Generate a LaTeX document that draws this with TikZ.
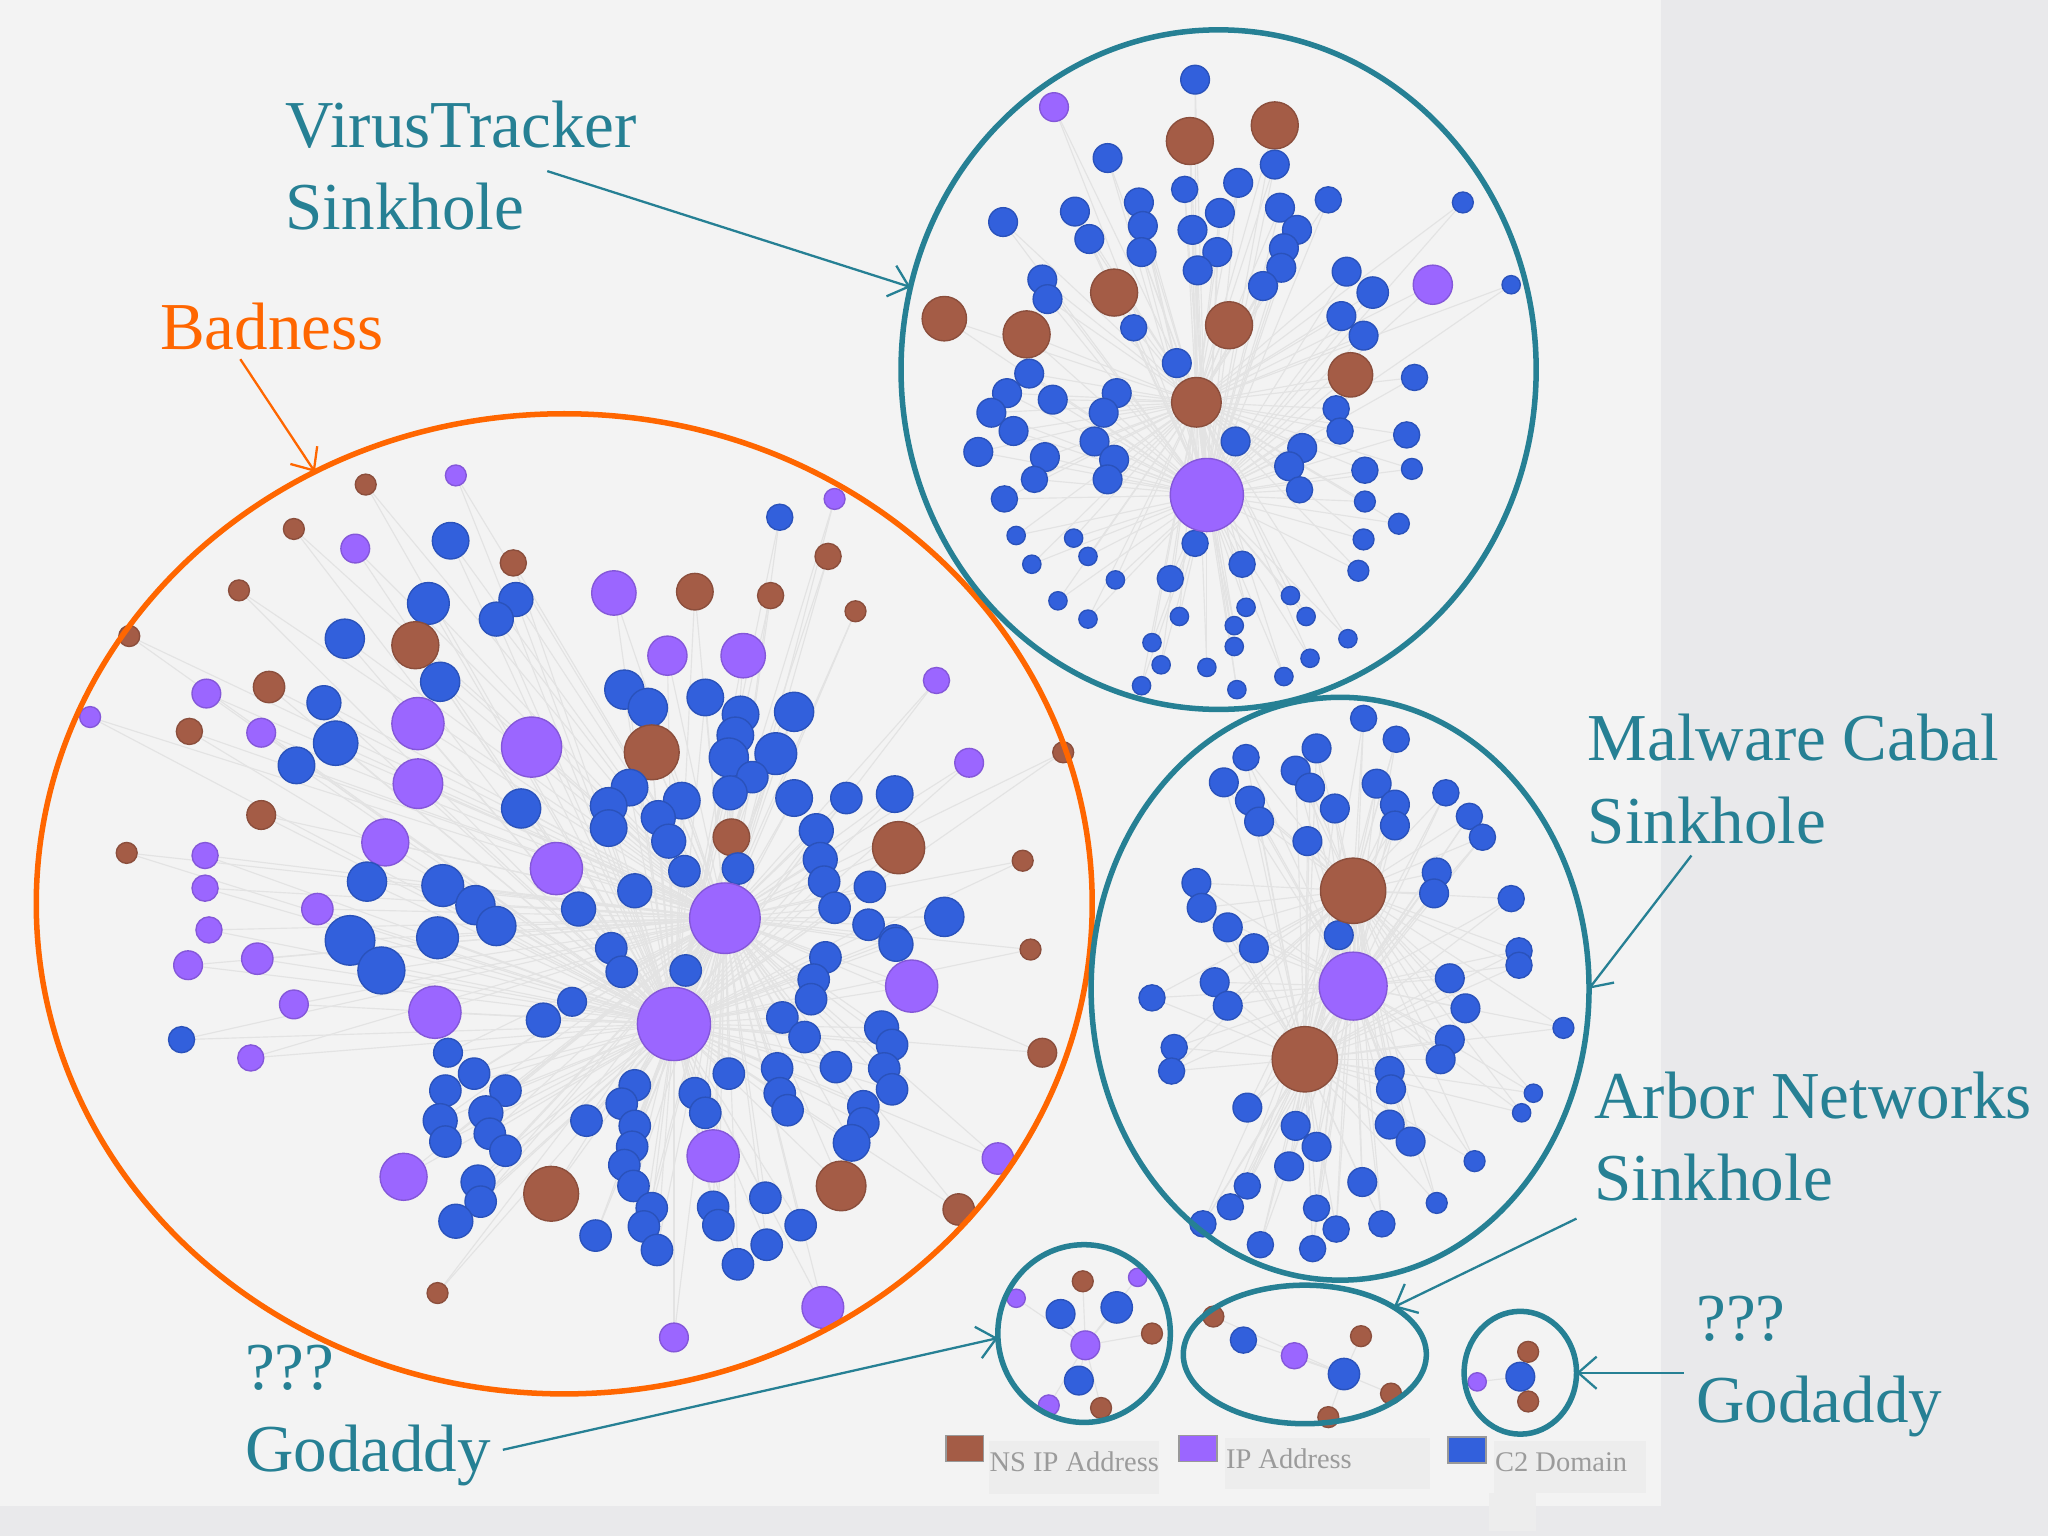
\documentclass[tikz,border=0pt]{standalone}
\usepackage{fontspec}
\setmainfont{Liberation Serif}
\usepackage{tikz}
\usetikzlibrary{arrows.meta,shapes.geometric}
\definecolor{SlideBack}{RGB}{243,243,243}
\definecolor{SlideSide}{RGB}{233,233,235}
\definecolor{SinkTeal}{RGB}{38,128,148}
\definecolor{BadOrange}{RGB}{255,102,0}
\definecolor{nsip}{RGB}{164,92,70}
\definecolor{ipaddr}{RGB}{155,102,255}
\definecolor{ctwo}{RGB}{50,96,220}
\definecolor{KeyText}{RGB}{155,155,155}

\tikzset{
  ring/.style={draw=SinkTeal, ellipse, line width=1.2pt, inner sep=0pt, outer sep=0pt},
  callout/.style={font=\fontsize{14.6}{17.9}\selectfont, align=left, inner sep=0pt, anchor=west, text=SinkTeal},
  pointer/.style={SinkTeal, line width=0.5pt, -{Straight Barb[length=4pt,width=7pt]}},
  edge/.style={gray!22, line width=0.25pt},
  keybox/.style={draw=gray!80, line width=0.4pt, minimum width=0.29cm, minimum height=0.2cm, inner sep=0pt},
  keytext/.style={font=\fontsize{6.2}{7}\selectfont, text=KeyText, inner sep=0pt, anchor=base west}
}

%% x/y/radius/colour, y measured downwards
\def\badnodes{280/371/8/nsip, 349/364/8/ipaddr, 225/405/8/nsip, 272/420/11/ipaddr, 345/414/14/ctwo, 393/431/10/nsip, 183/452/8/nsip, 328/462/16/ctwo, 395/459/13/ctwo, 380/474/13/ctwo, 99/487/8/nsip, 264/489/15/ctwo, 318/494/18/nsip, 337/522/15/ctwo, 158/531/11/ipaddr, 206/526/12/nsip, 248/538/13/ctwo, 69/549/8/ipaddr, 145/560/10/nsip, 200/561/11/ipaddr, 257/569/17/ctwo, 227/586/14/ctwo, 320/554/20/ipaddr, 320/600/19/ipaddr, 407/572/23/ipaddr, 399/619/15/ctwo, 200/624/11/nsip, 295/645/18/ipaddr, 97/653/8/nsip, 157/655/10/ipaddr, 157/680/10/ipaddr, 160/712/10/ipaddr, 281/675/15/ctwo, 243/696/12/ipaddr, 339/678/16/ctwo, 364/693/15/ctwo, 380/709/15/ctwo, 426/665/20/ipaddr, 268/720/19/ctwo, 292/743/18/ctwo, 335/718/16/ctwo,
639/382/8/ipaddr, 597/396/10/ctwo, 634/426/10/nsip, 470/454/17/ipaddr, 532/453/14/nsip, 590/456/10/nsip, 655/468/8/nsip, 511/502/15/ipaddr, 569/502/17/ipaddr, 717/521/10/ipaddr, 478/528/15/ctwo, 496/542/15/ctwo, 540/534/14/ctwo, 567/547/14/ctwo, 608/545/15/ctwo, 499/576/21/nsip, 563/563/14/ctwo, 558/580/15/ctwo, 594/577/16/ctwo, 576/595/12/ctwo, 742/584/11/ipaddr, 814/576/8/nsip, 482/603/14/ctwo, 466/617/14/ctwo, 466/634/14/ctwo, 522/613/14/ctwo, 504/626/13/ctwo, 512/644/13/ctwo, 559/607/13/ctwo, 608/611/14/ctwo, 648/611/12/ctwo, 685/608/14/ctwo, 560/641/14/nsip, 688/649/20/nsip, 783/659/8/nsip, 625/636/13/ctwo, 628/658/13/ctwo, 631/675/12/ctwo, 524/667/12/ctwo, 565/665/12/ctwo, 486/682/13/ctwo, 666/679/12/ctwo, 639/695/12/ctwo, 665/708/12/ctwo, 723/702/15/ctwo, 443/696/13/ctwo, 685/720/12/ctwo,
144/739/11/ipaddr, 197/734/12/ipaddr, 225/769/11/ipaddr, 139/796/10/ctwo, 192/810/10/ipaddr, 333/775/20/ipaddr, 416/781/13/ctwo, 343/806/11/ctwo, 363/822/12/ctwo, 341/835/12/ctwo, 387/835/12/ctwo, 337/858/13/ctwo, 341/874/12/ctwo, 372/852/13/ctwo, 375/868/12/ctwo, 387/881/12/ctwo, 309/901/18/ipaddr, 422/914/21/nsip, 366/905/13/ctwo, 368/920/12/ctwo, 349/935/13/ctwo, 335/990/8/nsip,
686/723/13/ctwo, 789/727/8/nsip, 468/726/12/ctwo, 476/744/12/ctwo, 525/743/12/ctwo, 438/767/11/ctwo, 632/733/12/ctwo, 623/750/12/ctwo, 621/765/12/ctwo, 599/779/12/ctwo, 616/794/12/ctwo, 698/755/20/ipaddr, 798/806/11/nsip, 675/787/13/ctwo, 683/800/12/ctwo, 677/818/12/ctwo, 683/834/12/ctwo, 640/817/12/ctwo, 595/818/12/ctwo, 597/837/12/ctwo, 603/850/12/ctwo, 558/822/12/ctwo, 532/837/12/ctwo, 540/852/12/ctwo, 486/831/12/ctwo, 476/845/12/ctwo, 486/862/12/ctwo, 484/878/12/ctwo, 449/858/12/ctwo, 478/892/12/ctwo, 485/908/12/ctwo, 499/925/12/ctwo, 493/939/12/ctwo, 503/957/12/ctwo, 456/946/12/ctwo, 661/847/12/ctwo, 661/860/12/ctwo, 652/875/14/ctwo, 546/885/20/ipaddr, 644/908/19/nsip, 764/887/12/ipaddr, 734/926/12/nsip, 586/917/12/ctwo, 546/924/12/ctwo, 550/938/12/ctwo, 613/938/12/ctwo, 587/953/12/ctwo, 565/968/12/ctwo, 630/1001/16/ipaddr, 516/1024/11/ipaddr,
555/703/27/ipaddr, 516/784/28/ipaddr}

\def\vtnodes{915/61/11/ctwo, 807/82/11/ipaddr, 911/108/18/nsip, 976/96/18/nsip, 848/121/11/ctwo, 907/145/10/ctwo, 948/140/11/ctwo, 976/126/11/ctwo, 1017/153/10/ctwo, 1120/155/8/ctwo, 768/170/11/ctwo, 823/162/11/ctwo, 834/183/11/ctwo, 872/155/11/ctwo, 875/173/11/ctwo, 874/193/11/ctwo, 913/176/11/ctwo, 934/163/11/ctwo, 932/193/11/ctwo, 917/207/11/ctwo, 980/159/11/ctwo, 993/176/11/ctwo, 983/190/11/ctwo, 981/205/11/ctwo, 967/219/11/ctwo, 1031/208/11/ctwo, 1051/224/12/ctwo, 1097/218/15/ipaddr, 1157/218/7/ctwo, 798/214/11/ctwo, 802/229/11/ctwo, 853/224/18/nsip, 723/244/17/nsip, 786/256/18/nsip, 868/251/10/ctwo, 941/249/18/nsip, 1027/242/11/ctwo, 1044/257/11/ctwo, 1034/287/17/nsip, 1083/289/10/ctwo, 901/278/11/ctwo, 916/308/19/nsip, 788/286/11/ctwo, 771/301/11/ctwo, 759/316/11/ctwo, 776/330/11/ctwo, 806/306/11/ctwo, 855/301/11/ctwo, 845/316/11/ctwo, 838/338/11/ctwo, 853/352/11/ctwo, 848/367/11/ctwo, 749/346/11/ctwo, 800/350/11/ctwo, 792/367/10/ctwo, 769/382/10/ctwo, 946/338/11/ctwo, 997/343/11/ctwo, 987/357/11/ctwo, 995/375/10/ctwo, 1023/313/10/ctwo, 1026/330/10/ctwo, 1077/333/10/ctwo, 1045/360/10/ctwo, 1081/359/8/ctwo, 1045/384/8/ctwo, 1071/401/8/ctwo, 1044/413/8/ctwo, 1040/437/8/ctwo, 778/410/7/ctwo, 822/412/7/ctwo, 833/426/7/ctwo, 790/432/7/ctwo, 915/416/10/ctwo, 951/432/10/ctwo, 896/443/10/ctwo, 854/444/7/ctwo, 810/460/7/ctwo, 833/474/7/ctwo, 988/456/7/ctwo, 1000/472/7/ctwo, 903/472/7/ctwo, 954/465/7/ctwo, 945/479/7/ctwo, 945/495/7/ctwo, 1032/489/7/ctwo, 882/492/7/ctwo, 889/509/7/ctwo, 924/511/7/ctwo, 1003/504/7/ctwo, 874/525/7/ctwo, 947/528/7/ctwo, 983/518/7/ctwo,
924/379/28/ipaddr}

\def\mcnodes{1044/550/10/ctwo, 1069/566/10/ctwo, 954/580/10/ctwo, 1008/573/11/ctwo, 937/599/11/ctwo, 992/590/11/ctwo, 1003/603/11/ctwo, 957/613/11/ctwo, 964/629/11/ctwo, 1022/619/11/ctwo, 1054/600/11/ctwo, 1068/616/11/ctwo, 1068/632/11/ctwo, 1107/607/10/ctwo, 1125/625/10/ctwo, 1135/641/10/ctwo, 1001/644/11/ctwo, 916/676/11/ctwo, 920/695/11/ctwo, 940/710/11/ctwo, 960/726/11/ctwo, 1100/668/11/ctwo, 1098/684/11/ctwo, 1157/688/10/ctwo, 1163/728/10/ctwo, 1163/739/10/ctwo, 1025/716/11/ctwo, 882/764/10/ctwo, 930/752/11/ctwo, 940/770/11/ctwo, 1110/749/11/ctwo, 1122/772/11/ctwo, 1197/787/8/ctwo, 899/802/10/ctwo, 897/820/10/ctwo, 1110/796/11/ctwo, 1103/811/11/ctwo, 1064/820/11/ctwo, 1065/834/11/ctwo, 1174/837/7/ctwo, 1165/852/7/ctwo, 955/848/11/ctwo, 992/862/11/ctwo, 1008/878/11/ctwo, 1064/861/11/ctwo, 1080/874/11/ctwo, 1129/889/8/ctwo, 987/893/11/ctwo, 1043/905/11/ctwo, 955/908/10/ctwo, 942/924/10/ctwo, 1100/921/8/ctwo, 1008/925/10/ctwo, 1023/941/10/ctwo, 1058/937/10/ctwo, 921/937/10/ctwo, 965/953/10/ctwo, 1005/956/10/ctwo,
1036/682/25/nsip, 1036/755/26/ipaddr, 999/811/25/nsip}

\def\gdleftnodes{829/981/8/nsip, 871/978/7/ipaddr, 778/994/7/ipaddr, 812/1006/11/ctwo, 855/1001/12/ctwo, 882/1021/8/nsip, 826/1057/11/ctwo, 803/1076/8/ipaddr, 843/1078/8/nsip, 831/1030/11/ipaddr}
\def\arnodes{929/1008/8/nsip, 952/1026/10/ctwo, 991/1038/10/ipaddr, 1042/1023/8/nsip, 1065/1067/8/nsip, 1017/1085/8/nsip, 1029/1052/12/ctwo}
\def\gdrightnodes{1170/1035/8/nsip, 1131/1058/7/ipaddr, 1170/1073/8/nsip, 1164/1054/11/ctwo}

\begin{document}
\begin{tikzpicture}[x=0.01cm, y=0.01cm]
    %%Background
    \useasboundingbox (0,0) rectangle (1568,-1176);
    \fill[SlideSide] (0,0) rectangle (1568,-1176);
    \fill[SlideBack] (0,0) rectangle (1272,-1153);

    %%Hubs
    \coordinate (badhubA) at (555,-703);
    \coordinate (badhubB) at (516,-784);
    \coordinate (vthub) at (924,-379);
    \coordinate (vthubB) at (916,-308);
    \coordinate (mchub) at (1036,-755);
    \coordinate (mchubA) at (1036,-682);
    \coordinate (mchubB) at (999,-811);
    \coordinate (gdlefthub) at (831,-1030);
    \coordinate (arhub) at (1029,-1052);
    \coordinate (gdrighthub) at (1164,-1054);

    %%Edges
    \foreach \px/\py/\pr/\pc in \badnodes {
        \draw[edge] (badhubA) -- (\px,-\py);
        \draw[edge] (badhubB) -- (\px,-\py);
    }
    \foreach \px/\py/\pr/\pc in \vtnodes {
        \draw[edge] (vthub) -- (\px,-\py);
        \draw[edge] (vthubB) -- (\px,-\py);
    }
    \foreach \px/\py/\pr/\pc in \mcnodes {
        \draw[edge] (mchub) -- (\px,-\py);
        \draw[edge] (mchubA) -- (\px,-\py);
        \draw[edge] (mchubB) -- (\px,-\py);
    }
    \foreach \px/\py/\pr/\pc in \gdleftnodes {\draw[edge] (gdlefthub) -- (\px,-\py);}
    \foreach \px/\py/\pr/\pc in \arnodes {\draw[edge] (arhub) -- (\px,-\py);}
    \foreach \px/\py/\pr/\pc in \gdrightnodes {\draw[edge] (gdrighthub) -- (\px,-\py);}

    %%Dots
    \foreach \px/\py/\pr/\pc in \badnodes {\fill[\pc, draw=\pc!85!black, line width=0.3pt] (\px,-\py) circle (\pr);}
    \foreach \px/\py/\pr/\pc in \vtnodes {\fill[\pc, draw=\pc!85!black, line width=0.3pt] (\px,-\py) circle (\pr);}
    \foreach \px/\py/\pr/\pc in \mcnodes {\fill[\pc, draw=\pc!85!black, line width=0.3pt] (\px,-\py) circle (\pr);}
    \foreach \px/\py/\pr/\pc in \gdleftnodes {\fill[\pc, draw=\pc!85!black, line width=0.3pt] (\px,-\py) circle (\pr);}
    \foreach \px/\py/\pr/\pc in \arnodes {\fill[\pc, draw=\pc!85!black, line width=0.3pt] (\px,-\py) circle (\pr);}
    \foreach \px/\py/\pr/\pc in \gdrightnodes {\fill[\pc, draw=\pc!85!black, line width=0.3pt] (\px,-\py) circle (\pr);}

    %%Rings
    \node[ring, draw=BadOrange, minimum width=8.08cm, minimum height=7.50cm] (bad) at (432,-692) {};
    \node[ring, minimum width=4.86cm, minimum height=5.20cm] (vt) at (933,-283) {};
    \node[ring, minimum width=3.81cm, minimum height=4.46cm] (mc) at (1026,-757) {};
    \node[ring, minimum width=1.32cm, minimum height=1.36cm] (gdleft) at (830,-1021) {};
    \node[ring, minimum width=1.86cm, minimum height=1.06cm] (ar) at (999,-1037) {};
    \node[ring, minimum width=0.86cm, minimum height=0.94cm] (gdright) at (1164,-1051) {};

    %%Labels
    \node[callout] (vtlabel) at (218,-126.5) {VirusTracker\\Sinkhole};
    \node[callout, text=BadOrange] (badlabel) at (122,-250) {Badness};
    \node[callout] (mclabel) at (1215,-596.5) {Malware Cabal\\Sinkhole};
    \node[callout] (arlabel) at (1220,-870) {Arbor Networks\\Sinkhole};
    \node[callout] (gdrightlabel) at (1298,-1046) {???\\Godaddy};
    \node[callout] (gdleftlabel) at (187,-1084) {???\\Godaddy};

    %%Pointers
    \coordinate (vtfrom) at (419,-131);
    \coordinate (badfrom) at (184,-275);
    \coordinate (mcfrom) at (1295,-655);
    \coordinate (arfrom) at (1207,-933);
    \coordinate (gdrightfrom) at (1289,-1051);
    \coordinate (gdleftfrom) at (385,-1110);
    \draw[pointer] (vtfrom) -- (vt.165);
    \draw[pointer, BadOrange] (badfrom) -- (bad.120);
    \draw[pointer] (mcfrom) -- (mc.0);
    \draw[pointer] (arfrom) -- (ar.28);
    \draw[pointer] (gdrightfrom) -- (gdright.0);
    \draw[pointer] (gdleftfrom) -- (gdleft.183);

    %%Key
    \fill[gray!14] (757,-1103) rectangle (887,-1144);
    \fill[gray!14] (938,-1101) rectangle (1095,-1140);
    \fill[gray!14] (1144,-1103) rectangle (1260,-1143);
    \fill[gray!14] (1140,-1143) rectangle (1176,-1172);
    \node[keybox, fill=nsip] (keyns) at (738.5,-1109) {};
    \node[keybox, fill=ipaddr] (keyip) at (917,-1109) {};
    \node[keybox, fill=ctwo] (keyc2) at (1123,-1110) {};
    \node[keytext] (keynstext) at (757,-1127) {NS IP Address};
    \node[keytext] (keyiptext) at (938,-1124) {IP Address};
    \node[keytext] (keyc2text) at (1144,-1127) {C2 Domain};
\end{tikzpicture}
\end{document}
